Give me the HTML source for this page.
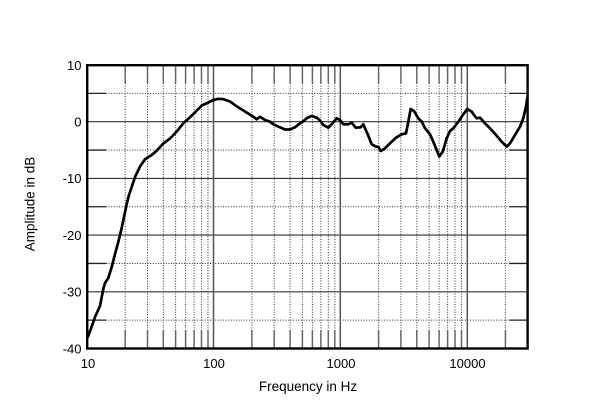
<!DOCTYPE html>
<html>
<head>
<meta charset="utf-8">
<style>
  html,body{margin:0;padding:0;background:#fff;}
  svg{display:block;}
  text{font-family:"Liberation Sans", Arial, sans-serif;fill:#000;}
</style>
</head>
<body>
<svg width="600" height="413" viewBox="0 0 600 413" xmlns="http://www.w3.org/2000/svg">
  <rect x="0" y="0" width="600" height="413" fill="#fff"/>

  <!-- dotted horizontal gridlines (±5, -15, -25, -35) -->
  <g stroke="#333" stroke-width="1" stroke-dasharray="1 1.6" fill="none">
    <line x1="106" y1="93.35" x2="509" y2="93.35"/>
    <line x1="106" y1="150.05" x2="509" y2="150.05"/>
    <line x1="106" y1="206.75" x2="509" y2="206.75"/>
    <line x1="106" y1="263.45" x2="509" y2="263.45"/>
    <line x1="106" y1="320.15" x2="509" y2="320.15"/>
  </g>
  <!-- short solid ticks at ends of dotted horizontals -->
  <g stroke="#222" stroke-width="1.3">
    <line x1="87" y1="93.35" x2="106" y2="93.35"/><line x1="509" y1="93.35" x2="527.7" y2="93.35"/>
    <line x1="87" y1="150.05" x2="106" y2="150.05"/><line x1="509" y1="150.05" x2="527.7" y2="150.05"/>
    <line x1="87" y1="206.75" x2="106" y2="206.75"/><line x1="509" y1="206.75" x2="527.7" y2="206.75"/>
    <line x1="87" y1="263.45" x2="106" y2="263.45"/><line x1="509" y1="263.45" x2="527.7" y2="263.45"/>
    <line x1="87" y1="320.15" x2="106" y2="320.15"/><line x1="509" y1="320.15" x2="527.7" y2="320.15"/>
  </g>
  <!-- solid horizontal gridlines -->
  <g stroke="#333" stroke-width="1.1">
    <line x1="87" y1="121.7" x2="527.7" y2="121.7"/>
    <line x1="87" y1="178.4" x2="527.7" y2="178.4"/>
    <line x1="87" y1="235.1" x2="527.7" y2="235.1"/>
    <line x1="87" y1="291.8" x2="527.7" y2="291.8"/>
  </g>

  <!-- vertical minor gridlines: dotted middle, solid ticks top/bottom -->
  <g id="minor">
    <g stroke="#333" stroke-width="1" stroke-dasharray="1 1.6" fill="none">
      <line x1="125.2" y1="83" x2="125.2" y2="330"/><line x1="147.5" y1="83" x2="147.5" y2="330"/>
      <line x1="163.3" y1="83" x2="163.3" y2="330"/><line x1="175.6" y1="83" x2="175.6" y2="330"/>
      <line x1="185.6" y1="83" x2="185.6" y2="330"/><line x1="194.1" y1="83" x2="194.1" y2="330"/>
      <line x1="201.5" y1="83" x2="201.5" y2="330"/><line x1="208" y1="83" x2="208" y2="330"/>

      <line x1="251.9" y1="83" x2="251.9" y2="330"/><line x1="274.2" y1="83" x2="274.2" y2="330"/>
      <line x1="290.1" y1="83" x2="290.1" y2="330"/><line x1="302.4" y1="83" x2="302.4" y2="330"/>
      <line x1="312.4" y1="83" x2="312.4" y2="330"/><line x1="320.9" y1="83" x2="320.9" y2="330"/>
      <line x1="328.3" y1="83" x2="328.3" y2="330"/><line x1="334.8" y1="83" x2="334.8" y2="330"/>

      <line x1="378.6" y1="83" x2="378.6" y2="330"/><line x1="400.9" y1="83" x2="400.9" y2="330"/>
      <line x1="416.8" y1="83" x2="416.8" y2="330"/><line x1="429.1" y1="83" x2="429.1" y2="330"/>
      <line x1="439.1" y1="83" x2="439.1" y2="330"/><line x1="447.6" y1="83" x2="447.6" y2="330"/>
      <line x1="455" y1="83" x2="455" y2="330"/><line x1="461.5" y1="83" x2="461.5" y2="330"/>

      <line x1="505.4" y1="83" x2="505.4" y2="330"/>
    </g>
    <g stroke="#666" stroke-width="1.5">
      <path d="M125.2 65V83M147.5 65V83M163.3 65V83M175.6 65V83M185.6 65V83M194.1 65V83M201.5 65V83M208 65V83
               M251.9 65V83M274.2 65V83M290.1 65V83M302.4 65V83M312.4 65V83M320.9 65V83M328.3 65V83M334.8 65V83
               M378.6 65V83M400.9 65V83M416.8 65V83M429.1 65V83M439.1 65V83M447.6 65V83M455 65V83M461.5 65V83
               M505.4 65V83
               M125.2 330V348.5M147.5 330V348.5M163.3 330V348.5M175.6 330V348.5M185.6 330V348.5M194.1 330V348.5M201.5 330V348.5M208 330V348.5
               M251.9 330V348.5M274.2 330V348.5M290.1 330V348.5M302.4 330V348.5M312.4 330V348.5M320.9 330V348.5M328.3 330V348.5M334.8 330V348.5
               M378.6 330V348.5M400.9 330V348.5M416.8 330V348.5M429.1 330V348.5M439.1 330V348.5M447.6 330V348.5M455 330V348.5M461.5 330V348.5
               M505.4 330V348.5"/>
    </g>
  </g>

  <!-- decade lines -->
  <g stroke="#555" stroke-width="1.5">
    <line x1="213.5" y1="65" x2="213.5" y2="348.5"/>
    <line x1="340.3" y1="65" x2="340.3" y2="348.5"/>
    <line x1="467.3" y1="65" x2="467.3" y2="348.5"/>
  </g>

  <!-- frame -->
  <rect x="87.2" y="65.2" width="440.4" height="283.3" fill="none" stroke="#000" stroke-width="2.4"/>

  <!-- response curve -->
  <polyline fill="none" stroke="#000" stroke-width="2.7" stroke-linejoin="round" stroke-linecap="round"
    points="87.8,337 91.7,326.7 95,317 100,306 103.3,289 105,283 108.3,278 111.7,267 115,254 118.3,242 121.7,228 124,217 126.7,204 129,195 131.7,187 135,177 140,166.5 145,159.3 151.7,155 156.7,150.7 163.3,143.5 170,138.5 176.7,131.5 183.3,123.3 190,117.3 196.7,110.7 201.7,105.5 204,104.5 208.3,102.5 213.3,100 218.3,98.8 223.3,99.2 230,101.5 236.7,106.3 245,111.5 253.3,116.7 256.7,119.3 260,116.7 265,120 270,121.7 273.3,124.3 280,127.3 285,129.5 290,129.5 295,127.3 300,123.3 303.3,121.3 307,118 311.7,116 316.7,117.7 320,120.5 323.3,125 328.3,127.7 331.7,124.3 336.7,118.3 340,120 343.3,124.3 348.3,124.3 351.7,122.7 355.7,127.7 360.7,127.3 363.3,124.3 367.3,133.3 371.7,144.3 376,146.7 378.3,146.7 380.7,151 385,148.3 390,143.3 396,137.7 401.7,134.3 406,133.3 408.3,121.7 410.7,109 414,111 418.3,118.3 421.7,121.5 425,128.3 430,134.3 433.3,141.7 436.7,150 439.3,156.5 442.7,151.7 446.7,138.3 450,131 453.3,128.3 458.3,121.7 463.3,114.3 467.3,109 471.7,111.7 474,115 476.7,118.3 480,117.7 485,123.3 490,128.3 496.7,135.7 501.7,141.7 506.7,146.7 510,143.3 515,135 520,126.7 523.3,118.3 526,106.7 527.3,98"/>

  <!-- y tick labels -->
  <g font-size="13" text-anchor="end">
    <text x="81.5" y="70">10</text>
    <text x="81.5" y="126.5">0</text>
    <text x="81.5" y="183.2">-10</text>
    <text x="81.5" y="239.9">-20</text>
    <text x="81.5" y="296.6">-30</text>
    <text x="81.5" y="353.3">-40</text>
  </g>
  <!-- x tick labels -->
  <g font-size="13" text-anchor="middle">
    <text x="88" y="368">10</text>
    <text x="214" y="368">100</text>
    <text x="341" y="368">1000</text>
    <text x="467.5" y="368">10000</text>
  </g>
  <!-- axis titles -->
  <text x="308" y="391" font-size="13.5" text-anchor="middle">Frequency in Hz</text>
  <text transform="translate(34.5,204) rotate(-90)" font-size="13.5" text-anchor="middle">Amplitude in dB</text>
</svg>
</body>
</html>
